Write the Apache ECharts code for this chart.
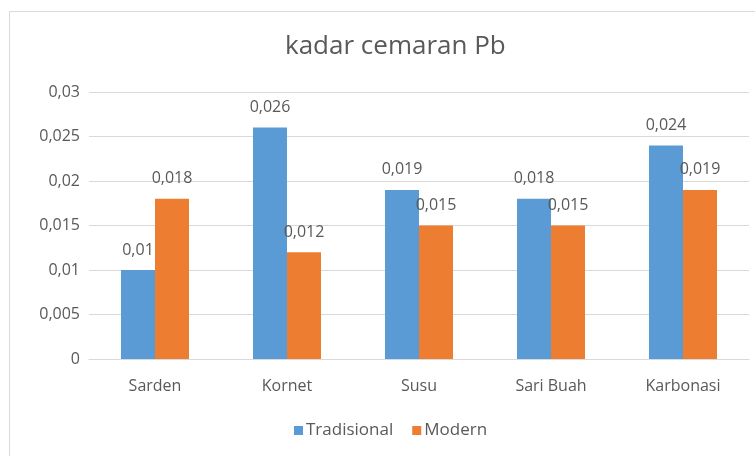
<!DOCTYPE html>
<html>
<head>
<meta charset="utf-8">
<script src="https://cdn.jsdelivr.net/npm/echarts@6/dist/echarts.min.js"></script>
<style>
  html, body { margin: 0; padding: 0; background: #fff; }
  #main { width: 755px; height: 456px; }
</style>
</head>
<body>
<div id="main"></div>
<script>
// data
var categories = ['Sarden', 'Kornet', 'Susu', 'Sari Buah', 'Karbonasi']
var tradisional = [0.01, 0.026, 0.019, 0.018, 0.024]
var modern = [0.018, 0.012, 0.015, 0.015, 0.019]

// angka pakai koma
function fmt(v) {
  return String(+v.toFixed(3)).replace('.', ',')
}

var font = 'Open Sans, Lato, sans-serif'
var textColor = '#595959'

var myChart = echarts.init(document.getElementById('main'))
myChart.setOption({
  animation: false,
  graphic: [{
    type: 'rect',
    shape: { x: 9.5, y: 11.5, width: 800, height: 500 },
    style: { fill: 'none', stroke: '#d9d9d9', lineWidth: 1 },
    silent: true
  }],
  title: {
    text: 'kadar cemaran Pb',
    left: 280,
    top: 29,
    textStyle: { fontFamily: font, fontWeight: 'normal', fontSize: 26, color: textColor }
  },
  legend: {
    bottom: 12,
    left: 289,
    itemWidth: 9,
    itemHeight: 9,
    itemGap: 19,
    icon: 'rect',
    textStyle: { fontFamily: font, fontSize: 17, color: textColor, padding: [0, 0, 0, -2] }
  },
  grid: { left: 89, right: 6, top: 92, bottom: 97 },
  xAxis: {
    type: 'category',
    data: categories,
    axisLine: { lineStyle: { color: '#d9d9d9' } },
    axisTick: { show: false },
    axisLabel: { fontFamily: font, fontSize: 16, color: textColor, margin: 19 }
  },
  yAxis: {
    type: 'value',
    min: 0,
    max: 0.03,
    interval: 0.005,
    axisLine: { show: false },
    axisTick: { show: false },
    splitLine: { lineStyle: { color: '#d9d9d9' } },
    axisLabel: { fontFamily: font, fontSize: 16, color: textColor, margin: 9, formatter: fmt }
  },
  series: [
    {
      name: 'Tradisional',
      type: 'bar',
      data: tradisional,
      barWidth: 34,
      barGap: '0%',
      itemStyle: { color: '#5b9bd5' },
      label: { show: true, position: 'top', distance: 12, fontFamily: font, fontSize: 16, color: textColor, formatter: function (p) { return fmt(p.value) } }
    },
    {
      name: 'Modern',
      type: 'bar',
      data: modern,
      barWidth: 34,
      itemStyle: { color: '#ed7d31' },
      label: { show: true, position: 'top', distance: 12, fontFamily: font, fontSize: 16, color: textColor, formatter: function (p) { return fmt(p.value) } }
    }
  ]
})
</script>
</body>
</html>
